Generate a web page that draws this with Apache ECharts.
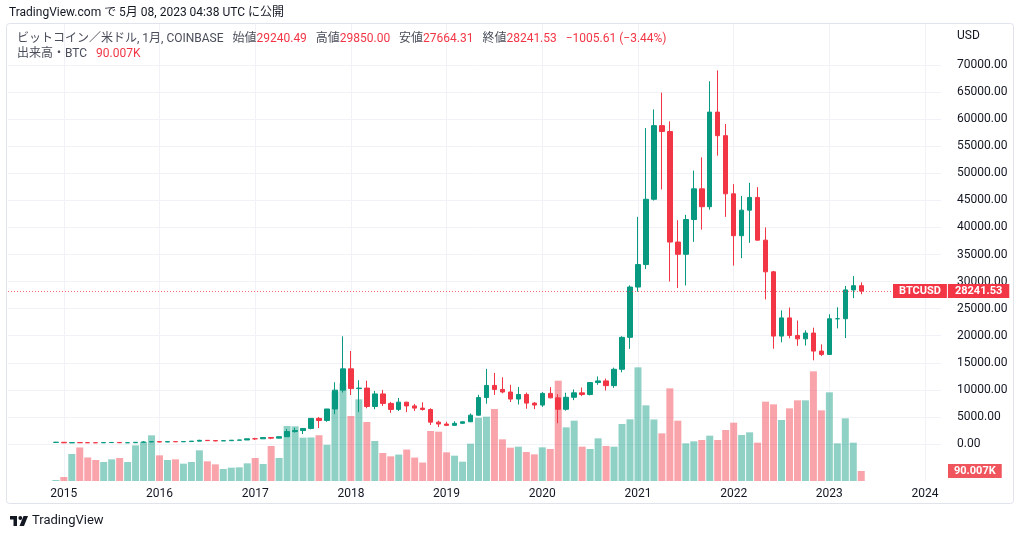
<!DOCTYPE html>
<html><head><meta charset="utf-8">
<script src="https://cdn.jsdelivr.net/npm/echarts@6/dist/echarts.min.js"></script>
<style>html,body{margin:0;padding:0;background:#fff}#c{width:1024px;height:538px}</style>
</head><body><div id="c"></div>
<script>
// x categories (monthly), including empty padding months on both sides
const categories = [
 '2014-06','2014-07','2014-08','2014-09','2014-10','2014-11','2014-12',
 '2015-01','2015-02','2015-03','2015-04','2015-05','2015-06','2015-07','2015-08','2015-09','2015-10','2015-11','2015-12',
 '2016-01','2016-02','2016-03','2016-04','2016-05','2016-06','2016-07','2016-08','2016-09','2016-10','2016-11','2016-12',
 '2017-01','2017-02','2017-03','2017-04','2017-05','2017-06','2017-07','2017-08','2017-09','2017-10','2017-11','2017-12',
 '2018-01','2018-02','2018-03','2018-04','2018-05','2018-06','2018-07','2018-08','2018-09','2018-10','2018-11','2018-12',
 '2019-01','2019-02','2019-03','2019-04','2019-05','2019-06','2019-07','2019-08','2019-09','2019-10','2019-11','2019-12',
 '2020-01','2020-02','2020-03','2020-04','2020-05','2020-06','2020-07','2020-08','2020-09','2020-10','2020-11','2020-12',
 '2021-01','2021-02','2021-03','2021-04','2021-05','2021-06','2021-07','2021-08','2021-09','2021-10','2021-11','2021-12',
 '2022-01','2022-02','2022-03','2022-04','2022-05','2022-06','2022-07','2022-08','2022-09','2022-10','2022-11','2022-12',
 '2023-01','2023-02','2023-03','2023-04','2023-05','2023-06','2023-07','2023-08','2023-09','2023-10','2023-11','2023-12',
 '2024-01','2024-02','2024-03'
];
const firstDataMonth = '2014-12';

// monthly OHLC (USD), 2014-12 .. 2023-05
const open = [
 300,
 320,217,254,244,236,230,263,284,230,236,314,377,
 430,368,437,416,448,531,673,624,575,609,700,742,
 964,960,1190,1080,1348,2300,2480,2875,4735,4338,6468,9950,
 13880,10230,10326,6926,9245,7494,6390,7729,7031,6626,6372,4040,
 3690,3440,3820,4105,5320,8574,10817,10085,9600,8300,9150,7550,
 7195,9350,8525,6410,8630,9450,9140,11350,11655,10780,13800,19700,
 28990,33140,45200,58800,57720,37300,35040,41460,47130,43830,61300,56950,
 46210,38470,43190,45540,37650,31800,19930,23290,20050,19420,20490,17160,
 16540,23130,23140,28460,29240.49
];
const high = [
 390,
 320,265,300,262,248,270,319,285,244,334,502,470,
 463,443,442,469,550,780,703,625,630,720,752,980,
 1153,1211,1300,1370,2790,3000,2920,4770,4980,6470,11400,19891,
 17178,11780,11704,9800,9990,7770,8500,7770,7400,7700,6600,4300,
 4100,4200,4150,5630,9090,13880,13130,12325,10940,10540,9500,7750,
 9580,10500,9200,9470,10080,10430,11450,12470,12080,14100,19900,29300,
 41960,58350,61790,64900,59590,41330,42320,50500,52950,67000,69000,59100,
 47990,45820,48240,47440,40000,31970,24670,25200,22800,21000,21480,18400,
 23960,25250,29190,31000,29850.00
];
const low = [
 295,
 170,211,240,215,228,219,253,198,225,235,304,348,
 352,366,402,412,433,514,605,515,570,606,680,741,
 752,915,890,1060,1345,2100,1840,2700,2950,4110,5500,9500,
 9035,5873,6600,6425,7034,5755,6100,5880,6100,6170,3500,3127,
 3330,3360,3735,4060,5300,7440,9070,9370,7750,7300,6515,6435,
 6860,8450,3850,6160,8100,8850,8980,10935,9880,10375,13240,17570,
 28130,32300,44960,47000,30000,28800,29280,37330,39600,43280,53250,41950,
 32950,34320,37150,37580,26700,17600,18780,19520,18130,18190,15460,16260,
 16500,21350,19570,26940,27664.31
];
const close = [
 320,
 217,254,244,236,230,263,284,230,236,314,377,430,
 368,437,416,448,531,673,624,575,609,700,742,963,
 960,1190,1080,1348,2300,2480,2875,4735,4338,6468,9950,13880,
 10230,10326,6926,9245,7494,6390,7729,7031,6626,6372,4040,3690,
 3440,3820,4105,5320,8574,10817,10085,9600,8300,9150,7550,7195,
 9350,8525,6410,8630,9450,9140,11350,11655,10780,13800,19700,28990,
 33140,45200,58800,57720,37300,35040,41460,47130,43830,61300,56950,46210,
 38470,43190,45540,37650,31800,19930,23290,20050,19420,20490,17160,16540,
 23130,23140,28460,29240.49,28241.53
];
// monthly volume (thousand BTC), 2014-12 .. 2023-05
const volume = [
 9,
 36,243,302,212,189,171,195,207,171,321,351,411,
 231,189,195,156,171,276,177,150,108,120,123,159,
 207,153,315,207,495,492,390,392,412,326,805,880,
 585,735,531,360,252,222,238,283,211,166,450,444,
 258,228,174,336,570,579,648,375,300,309,261,240,
 303,288,903,483,543,309,288,384,315,309,513,555,
 1023,681,554,429,834,543,339,357,369,408,369,459,
 525,414,438,345,714,690,549,654,726,726,987,636,
 798,339,564,345,90.007
];
// price axis ticks
const priceMin = 0, priceMax = 70000, priceStep = 5000;
const volumeAxisMax = 4113;

const UP = '#089981', DOWN = '#F23645';
const UP_VOL = 'rgba(8,153,129,0.45)', DOWN_VOL = 'rgba(242,54,69,0.45)';
const FONT = 'Roboto, "Noto Sans CJK JP", sans-serif';

const start = categories.indexOf(firstDataMonth);
const candleData = categories.map((m, i) => {
  const k = i - start;
  if (k < 0 || k >= open.length) return '-';
  return [open[k], close[k], low[k], high[k]];
});
const volData = categories.map((m, i) => {
  const k = i - start;
  if (k < 0 || k >= volume.length) return '-';
  return { value: volume[k], itemStyle: { color: close[k] >= open[k] ? UP_VOL : DOWN_VOL } };
});
const lastClose = close[close.length - 1];
const lastVol = volume[volume.length - 1];
const isJan = (i, v) => String(v).endsWith('-01');

const chart = echarts.init(document.getElementById('c'), null, { renderer: 'canvas' });
chart.setOption({
  animation: false,
  backgroundColor: '#ffffff',
  textStyle: { fontFamily: FONT },
  title: [
    { text: 'TradingView.com で 5月 08, 2023 04:38 UTC に公開', left: 9, top: 6, padding: 0,
      textStyle: { fontSize: 12, fontWeight: 'normal', color: '#131722', fontFamily: FONT, lineHeight: 14 } },
    { text: '{g|ビットコイン／米ドル, 1月, COINBASE}   {g|始値}{r|29240.49}   {g|高値}{r|29850.00}   {g|安値}{r|27664.31}   {g|終値}{r|28241.53}   {r|−1005.61 (−3.44%)}\n{g|出来高・BTC}   {r|90.007K}',
      left: 17, top: 31, padding: 0,
      textStyle: { fontSize: 12, fontWeight: 'normal', fontFamily: FONT, lineHeight: 15,
        rich: { g: { color: '#4a4e5a', fontSize: 12, fontFamily: FONT, lineHeight: 15 },
                r: { color: '#F23645', fontSize: 12, fontFamily: FONT, lineHeight: 15 } } } }
  ],
  grid: [
    { left: 8, right: 83, top: 65, bottom: 94 },
    { left: 8, right: 83, top: 24, bottom: 57 }
  ],
  xAxis: [
    { type: 'category', gridIndex: 0, data: categories, boundaryGap: false, show: false },
    { type: 'category', gridIndex: 1, data: categories, boundaryGap: false,
      axisLine: { show: false }, axisTick: { show: false },
      axisLabel: { interval: isJan, formatter: v => v.slice(0, 4), color: '#131722', fontSize: 12, margin: 7, fontFamily: FONT },
      splitLine: { show: true, interval: isJan, lineStyle: { color: '#F0F2F7', width: 1 } } }
  ],
  yAxis: [
    { type: 'value', gridIndex: 0, position: 'right', min: priceMin, max: priceMax, interval: priceStep,
      axisLine: { show: false }, axisTick: { show: false },
      axisLabel: { formatter: v => v.toFixed(2), color: '#131722', fontSize: 12, margin: 16, fontFamily: FONT },
      splitLine: { show: true, lineStyle: { color: '#F0F2F7', width: 1 } } },
    { type: 'value', gridIndex: 1, min: 0, max: volumeAxisMax, show: false, splitLine: { show: false } }
  ],
  graphic: [
    { type: 'rect', shape: { x: 6.5, y: 23.5, width: 1007, height: 480, r: 3 },
      style: { fill: 'none', stroke: '#E0E3EB', lineWidth: 1 }, z: -1 },
    { type: 'text', left: 957, top: 30, style: { text: 'USD', fill: '#131722', font: '12px ' + FONT } },
    { type: 'group', left: 10, top: 516, children: [
      { type: 'polygon', shape: { points: [[0,0],[7,0],[7,10],[3.5,10],[3.5,3.5],[0,3.5]] }, style: { fill: '#131722' } },
      { type: 'circle', shape: { cx: 10.3, cy: 2, r: 1.9 }, style: { fill: '#131722' } },
      { type: 'polygon', shape: { points: [[13.5,0],[18,0],[14,10],[9.5,10]] }, style: { fill: '#131722' } }
    ] },
    { type: 'text', left: 32, top: 514, style: { text: 'TradingView', fill: '#131722', font: '13px ' + FONT } }
  ],
  series: [
    { type: 'bar', name: 'volume', xAxisIndex: 1, yAxisIndex: 1, data: volData, barWidth: 7, z: 2,
      markLine: { silent: true, symbol: ['none', 'none'], data: [{ yAxis: lastVol }],
        lineStyle: { color: 'rgba(0,0,0,0)', width: 0 },
        label: { show: true, position: 'end', distance: 7, formatter: '90.007K',
          backgroundColor: '#F0545C', color: '#fff', fontSize: 11, fontWeight: 'bold', fontFamily: FONT,
          padding: [2, 6, 1, 6] } } },
    { type: 'candlestick', name: 'BTCUSD', xAxisIndex: 0, yAxisIndex: 0, data: candleData, barWidth: 5, z: 3,
      itemStyle: { color: UP, color0: DOWN, borderColor: UP, borderColor0: DOWN, borderWidth: 1 },
      markLine: { silent: true, symbol: ['none', 'none'], data: [{ yAxis: lastClose }],
        lineStyle: { color: 'rgba(242,54,69,0.75)', type: [1, 2], width: 1, opacity: 1 },
        label: { show: true, position: 'end', distance: 0, offset: [-48, 0],
          formatter: '{a|BTCUSD}{s|}{b|' + lastClose.toFixed(2) + '}',
          rich: {
            a: { backgroundColor: DOWN, color: '#fff', fontSize: 11, fontWeight: 'bold', fontFamily: FONT, padding: [2, 6, 1, 6] },
            s: { width: 1 },
            b: { backgroundColor: DOWN, color: '#fff', fontSize: 11, fontWeight: 'bold', fontFamily: FONT, padding: [2, 7, 1, 7] }
          } } } }
  ]
});
</script></body></html>
